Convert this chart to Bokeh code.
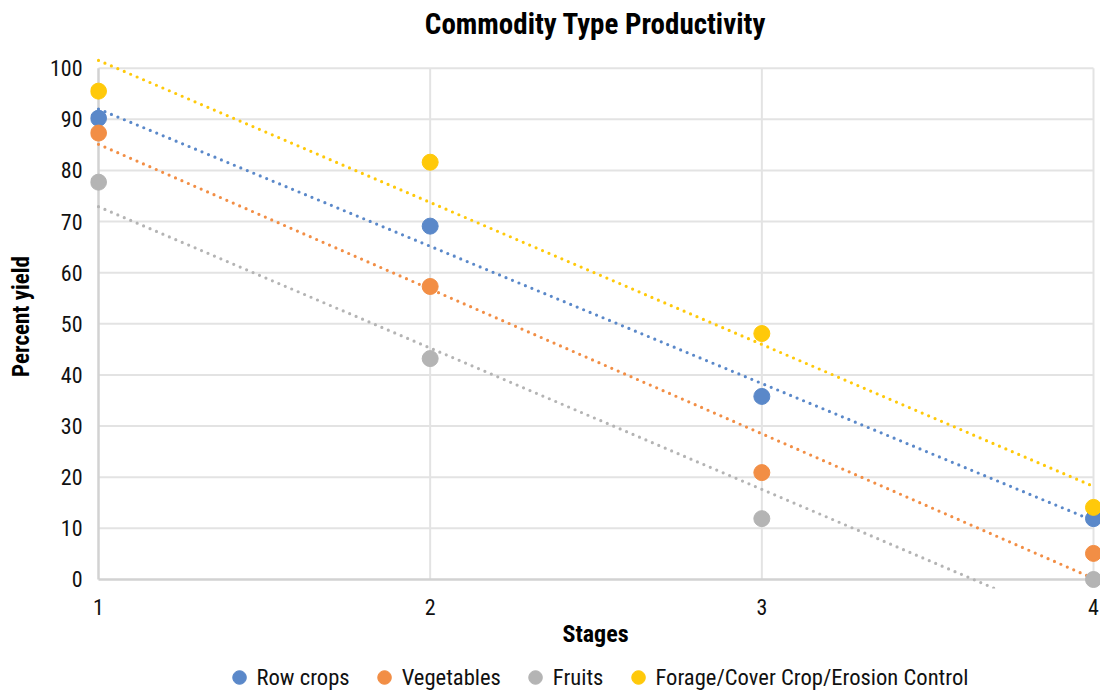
from bokeh.plotting import figure
from bokeh.layouts import column
from bokeh.models import Legend, LegendItem, FixedTicker, Range1d
from bokeh.embed import file_html
from bokeh.resources import INLINE

# ---- data ----
stages = [1, 2, 3, 4]
stage_labels = ["1", "2", "3", "4"]
series_names = ["Row crops", "Vegetables", "Fruits", "Forage/Cover Crop/Erosion Control"]
row_crops = [90.2, 69.1, 35.8, 11.9]
vegetables = [87.3, 57.3, 20.9, 5.1]
fruits = [77.7, 43.2, 11.9, 0.0]
forage = [95.5, 81.6, 48.1, 14.1]
# linear trendlines: values read at stage 1 and stage 4
trend_x = [1, 4]
row_trend = [92.0, 11.5]
veg_trend = [85.1, 0.2]
fruit_trend = [72.9, -10.0]
forage_trend = [101.5, 18.2]
y_ticks = [0, 10, 20, 30, 40, 50, 60, 70, 80, 90, 100]

colors = ["#5A88C9", "#F28E45", "#B4B4B4", "#FFC90A"]
FONT = "Roboto Condensed, Roboto"

p = figure(width=1100, height=655, output_backend="svg", toolbar_location=None,
           x_range=Range1d(0.97588, 4.02111), y_range=Range1d(-1.76, 104.62),
           min_border_left=90, min_border_right=0, min_border_top=0, min_border_bottom=67,
           title="Commodity Type Productivity")
p.outline_line_color = None
p.xgrid.visible = False
p.ygrid.visible = False

# grid lines
p.segment(x0=stages[0], x1=stages[-1], y0=y_ticks[1:], y1=y_ticks[1:],
          line_color="#E3E3E3", line_width=2)
p.segment(x0=stages[1:], x1=stages[1:], y0=y_ticks[0], y1=y_ticks[-1],
          line_color="#E3E3E3", line_width=2)
# axis lines
p.segment(x0=[stages[0]], x1=[stages[-1]], y0=[y_ticks[0]], y1=[y_ticks[0]],
          line_color="#D2D2D2", line_width=2.5)
p.segment(x0=[stages[0]], x1=[stages[0]], y0=[y_ticks[0]], y1=[y_ticks[-1]],
          line_color="#D2D2D2", line_width=2.5)

series = [row_crops, vegetables, fruits, forage]
trends = [row_trend, veg_trend, fruit_trend, forage_trend]
for t, c in zip(trends, colors):
    p.line(trend_x, t, line_color=c, line_width=3.2, line_dash="0 7", line_cap="round")

for ys, c in zip(series, colors):
    p.scatter(stages, ys, size=16, fill_color=c, line_color=c)

# axes
for ax in (p.xaxis[0], p.yaxis[0]):
    ax.axis_line_color = None
    ax.major_tick_line_color = None
    ax.minor_tick_line_color = None
    ax.major_tick_out = 0
    ax.major_tick_in = 0
    ax.minor_tick_out = 0
    ax.major_label_text_font = FONT
    ax.major_label_text_font_size = "22px"
    ax.major_label_text_color = "#111111"
    ax.axis_label_text_font = FONT
    ax.axis_label_text_font_style = "bold"
    ax.axis_label_text_color = "#000000"

p.xaxis.ticker = FixedTicker(ticks=stages)
p.xaxis.major_label_overrides = {s: l for s, l in zip(stages, stage_labels)}
p.xaxis.major_label_standoff = 10
p.xaxis.axis_label = "Stages"
p.xaxis.axis_label_standoff = 2
p.xaxis.axis_label_text_font_size = "24px"

p.yaxis.ticker = FixedTicker(ticks=y_ticks)
p.yaxis.major_label_standoff = 8
p.yaxis.axis_label = "Percent yield"
p.yaxis.axis_label_standoff = 12
p.yaxis.axis_label_text_font_size = "23px"

p.title.align = "center"
p.title.text_font = FONT
p.title.text_font_size = "29px"
p.title.text_font_style = "bold"
p.title.text_color = "#000000"
p.title.standoff = 8

# ---- legend strip ----
lp = figure(width=1100, height=39, output_backend="svg", toolbar_location=None,
            x_range=Range1d(0, 1), y_range=Range1d(200, 201),
            min_border_left=77, min_border_right=0, min_border_top=5, min_border_bottom=0,
            x_axis_type=None, y_axis_type=None)
lp.outline_line_color = None
lp.xgrid.visible = False
lp.ygrid.visible = False
items = []
for name, ys, c in zip(series_names, series, colors):
    # helper renderers (outside the strip's visible range) that supply the legend icons
    r = lp.scatter(x=stages[:1], y=ys[:1], size=14, fill_color=c, line_color=c)
    items.append(LegendItem(label=name, renderers=[r]))
legend = Legend(items=items, orientation="horizontal", location="center",
                glyph_width=35, glyph_height=34, label_standoff=-7, spacing=17,
                padding=0, margin=0, border_line_color=None, background_fill_alpha=0,
                label_text_font=FONT, label_text_font_size="22.6px", label_text_color="#111111")
lp.add_layout(legend)

layout = column(p, lp, spacing=0)
open("out.html", "w").write(file_html(layout, INLINE))
